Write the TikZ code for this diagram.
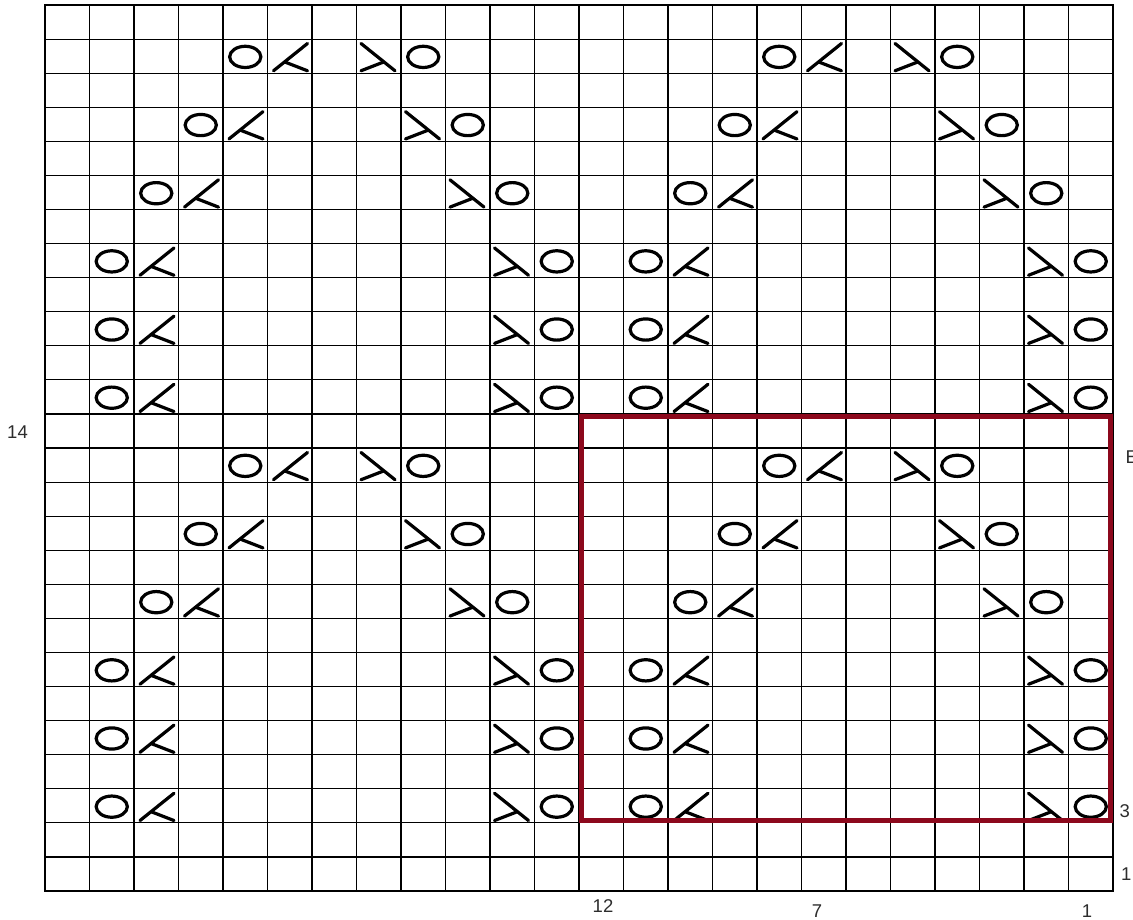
\documentclass[tikz,border=0pt]{standalone}
\usepackage{fontspec}
\setmainfont{Liberation Sans}
\definecolor{boxred}{RGB}{140,8,28}
\definecolor{lbl}{RGB}{45,45,45}
\begin{document}
\begin{tikzpicture}[x=1pt,y=-1pt,
  gridline/.style={line width=1.1pt,black},
  border/.style={line width=1.6pt,black},
  sym/.style={line width=3.2pt,black,line cap=round},
  redbox/.style={line width=4.2pt,boxred},
  lab/.style={font=\fontsize{18.5}{20}\selectfont,text=lbl,inner sep=0pt},
  yo/.pic={\draw[sym] (22.25,17.8) ellipse (15.6 and 10.6);},
  lean/.pic={\draw[sym] (6,31.7) -- (40,4.4); \draw[sym] (17.3,22.9) -- (40,31.7);},
  slant/.pic={\draw[sym] (4.5,4.4) -- (38.5,31.7); \draw[sym] (4.5,31.7) -- (27.2,22.9);}
]
\useasboundingbox (0,0) rectangle (1133,919);
\fill[white] (0,0) rectangle (1133,919);
% grid
\foreach \c in {1,...,23} \draw[gridline] ({45+\c*44.5},5) -- ({45+\c*44.5},891);
\foreach \r in {1,...,25} \draw[gridline] (45,{5+\r*34.08}) -- (1113,{5+\r*34.08});
\draw[border] (45,5) rectangle (1113,891);
% symbols
\foreach \r/\k in {1/3,3/2,5/1,7/0,9/0,11/0,13/3,15/2,17/1,19/0,21/0,23/0}{
  \pgfmathsetmacro{\yy}{5+\r*34.08}
  \foreach \c/\p in {{1+\k}/yo,{2+\k}/lean,{10-\k}/slant,{11-\k}/yo,{13+\k}/yo,{14+\k}/lean,{22-\k}/slant,{23-\k}/yo}{
    \pgfmathsetmacro{\xx}{45+(\c)*44.5}
    \pic at (\xx,\yy) {\p};
  }
}
% highlighted repeat
\draw[redbox] (581.5,416.5) rectangle (1110.5,820.5);
% labels
\node[lab,anchor=base east] (l14) at (28,438) {14};
\node[lab,anchor=base west] (l13) at (1125.5,463) {E};
\node[lab,anchor=base west] (l3) at (1119.5,817) {3};
\node[lab,anchor=base west] (l1r) at (1121,880) {1};
\node[lab,anchor=base] (c12) at (603,912) {12};
\node[lab,anchor=base] (c7) at (817,917) {7};
\node[lab,anchor=base] (c1) at (1087,917) {1};
\end{tikzpicture}
\end{document}
